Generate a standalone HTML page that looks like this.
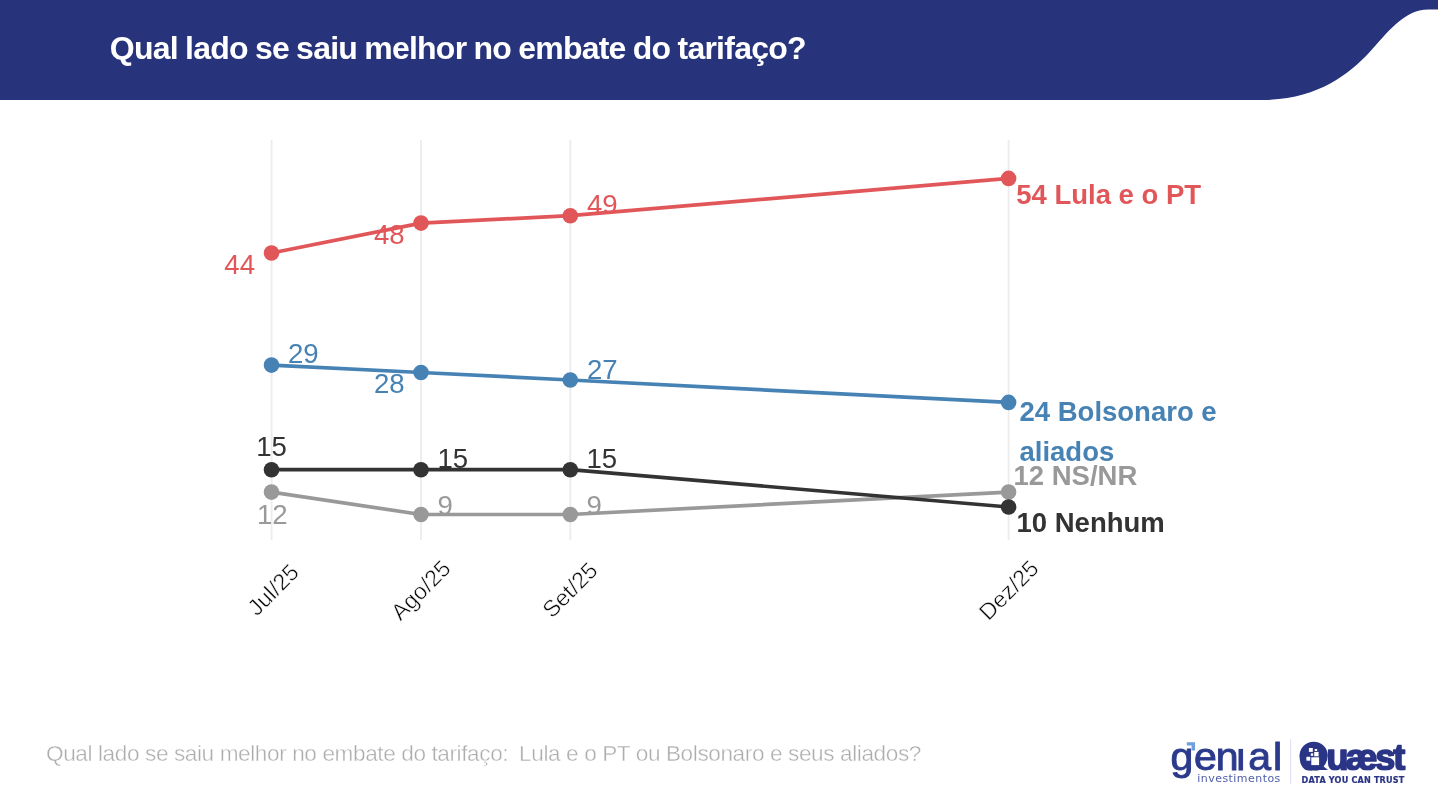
<!DOCTYPE html>
<html lang="pt-BR">
<head>
<meta charset="utf-8">
<title>Qual lado se saiu melhor no embate do tarifaço?</title>
<style>
  html, body { margin: 0; padding: 0; }
  body {
    width: 1438px; height: 800px; overflow: hidden; position: relative;
    background: #ffffff;
    font-family: "Liberation Sans", sans-serif;
  }
  #hdr { position: absolute; left: 0; top: 0; width: 1438px; height: 110px; display: block; }
  #title {
    position: absolute; left: 109.8px; top: 27.6px; margin: 0;
    font-family: "Liberation Sans", sans-serif; font-weight: bold;
    font-size: 32px; line-height: 40px; color: #ffffff; white-space: nowrap;
    letter-spacing: -0.76px; word-spacing: -1px;
  }
  #chart { position: absolute; left: 0; top: 0; width: 1438px; height: 800px; display: block; }
  #chart text { font-family: "Liberation Sans", sans-serif; }
  .dl { font-size: 27.6px; }
  .el { font-size: 27.5px; font-weight: bold; }
  .xl { font-size: 23px; fill: #0a0a0a; stroke: #ffffff; stroke-width: 0.45px; }
  #foot {
    position: absolute; left: 46px; top: 740.8px; margin: 0;
    font-family: "Liberation Sans", sans-serif; font-weight: normal;
    font-size: 22.6px; line-height: 26px; color: #adadad; white-space: nowrap;
    letter-spacing: -0.4px; -webkit-text-stroke: 0.4px #ffffff;
  }
  #logos { position: absolute; left: 1160px; top: 730px; width: 270px; height: 66px; display: block; }
</style>
</head>
<body>

<svg id="hdr" viewBox="0 0 1438 110">
  <path d="M0 0 H1438 V9.5 H1428.5 C1403.4 9.5 1386.7 33.7 1369.7 52.1 C1348.3 75.4 1315.3 100 1262.9 100 H0 Z" fill="#27347c"/>
</svg>
<h1 id="title">Qual lado se saiu melhor no embate do tarifaço?</h1>

<svg id="chart" viewBox="0 0 1438 800">
  <g transform="translate(0,0.5)">
  <!-- grid -->
  <g stroke="#ececec" stroke-width="1.8">
    <line x1="271.6" y1="139.4" x2="271.6" y2="539.5"/>
    <line x1="421" y1="139.4" x2="421" y2="539.5"/>
    <line x1="570.3" y1="139.4" x2="570.3" y2="539.5"/>
    <line x1="1008.6" y1="139.4" x2="1008.6" y2="539.5"/>
  </g>

  <!-- Lula e o PT -->
  <g fill="#e15759" stroke="none">
    <polyline points="271.5,252.5 421,222.6 570.3,215.2 1008.6,177.9" fill="none" stroke="#e15759" stroke-width="3.7" stroke-linejoin="round"/>
    <circle cx="271.5" cy="252.5" r="7.8"/><circle cx="421" cy="222.6" r="7.8"/><circle cx="570.3" cy="215.2" r="7.8"/><circle cx="1008.6" cy="177.9" r="7.8"/>
    <text class="dl" x="224.3" y="273.1">44</text>
    <text class="dl" x="374" y="243.5">48</text>
    <text class="dl" x="587" y="213">49</text>
    <text class="el" x="1016.2" y="203.1">54 Lula e o PT</text>
  </g>

  <!-- Bolsonaro e aliados -->
  <g fill="#4682b4" stroke="none">
    <polyline points="271.5,364.6 421,372 570.3,379.5 1008.6,401.9" fill="none" stroke="#4682b4" stroke-width="3.7" stroke-linejoin="round"/>
    <circle cx="271.5" cy="364.6" r="7.8"/><circle cx="421" cy="372" r="7.8"/><circle cx="570.3" cy="379.5" r="7.8"/><circle cx="1008.6" cy="401.9" r="7.8"/>
    <text class="dl" x="288" y="362">29</text>
    <text class="dl" x="374" y="392.5">28</text>
    <text class="dl" x="587" y="378">27</text>
    <text class="el" x="1019.5" y="420.5">24 Bolsonaro e</text>
    <text class="el" x="1019.5" y="460">aliados</text>
  </g>

  <!-- NS/NR -->
  <g fill="#999999" stroke="none">
    <text class="el" x="1013.5" y="484.3">12 NS/NR</text>
    <polyline points="271.5,491.6 421,514 570.3,514 1008.6,491.6" fill="none" stroke="#999999" stroke-width="3.7" stroke-linejoin="round"/>
    <circle cx="271.5" cy="491.6" r="7.8"/><circle cx="421" cy="514" r="7.8"/><circle cx="570.3" cy="514" r="7.8"/><circle cx="1008.6" cy="491.6" r="7.8"/>
    <text class="dl" x="257" y="523">12</text>
    <text class="dl" x="437.5" y="514.3">9</text>
    <text class="dl" x="586.5" y="514.3">9</text>
  </g>

  <!-- Nenhum -->
  <g fill="#333333" stroke="none">
    <polyline points="271.5,469.2 421,469.2 570.3,469.2 1008.6,506.5" fill="none" stroke="#333333" stroke-width="3.7" stroke-linejoin="round"/>
    <circle cx="271.5" cy="469.2" r="7.8"/><circle cx="421" cy="469.2" r="7.8"/><circle cx="570.3" cy="469.2" r="7.8"/><circle cx="1008.6" cy="506.5" r="7.8"/>
    <text class="dl" x="256.2" y="455.5">15</text>
    <text class="dl" x="437.5" y="467">15</text>
    <text class="dl" x="586.5" y="467">15</text>
    <text class="el" x="1016.5" y="531.2">10 Nenhum</text>
  </g>

  </g>
  <!-- x axis labels -->
  <g class="xl">
    <text class="xl" text-anchor="end" transform="translate(300.3,573.7) rotate(-45)">Jul/25</text>
    <text class="xl" text-anchor="end" transform="translate(452,570) rotate(-45)">Ago/25</text>
    <text class="xl" text-anchor="end" transform="translate(599,572) rotate(-45)">Set/25</text>
    <text class="xl" text-anchor="end" transform="translate(1040,570) rotate(-45)">Dez/25</text>
  </g>
</svg>

<p id="foot">Qual lado se saiu melhor no embate do tarifaço: <span style="margin-left:5px">Lula e o PT ou Bolsonaro e seus aliados?</span></p>

<svg id="logos" viewBox="1160 730 270 66">
  <defs>
    <clipPath id="qclip"><rect x="1290" y="730" width="140" height="40.4"/></clipPath>
  </defs>
  <!-- genial investimentos -->
  <g fill="#2b3a8c">
    <text transform="translate(1170.43,770) scale(1.08,1)" x="0 21.94 41.95 60.99 72.04 94.97" y="0" font-family="'Liberation Sans', sans-serif" font-size="38" stroke="#2b3a8c" stroke-width="0.9">genial</text>
    <rect x="1237" y="737" width="8" height="11.8" fill="#ffffff"/>
    <path d="M1186.8 742.2 H1195 V750.4 H1191.6 V745.6 H1186.8 Z" fill="#6f9fe0"/>
    <text x="1197.3" y="781.7" font-family="'DejaVu Sans', sans-serif" font-size="11" fill="#4f5da8" textLength="83" lengthAdjust="spacing">investimentos</text>
  </g>
  <!-- separator -->
  <line x1="1290.6" y1="739.3" x2="1290.6" y2="783.5" stroke="#dfe3f3" stroke-width="1.2"/>
  <!-- Quaest -->
  <g fill="#2a3586">
    <g clip-path="url(#qclip)">
      <text transform="translate(1298.9,769.6)" x="0 27.67 46.55 76.44 94.47" y="0" font-family="'Liberation Sans', sans-serif" font-weight="bold" font-size="36" stroke="#2a3586" stroke-width="1.6" stroke-linejoin="round">Quæst</text>
    </g>
    <ellipse cx="1313.7" cy="755.8" rx="14.1" ry="14.1"/>
    <path d="M1318 762 L1328 770.1 L1311 770.1 Z"/>
    <g fill="#ffffff">
      <rect x="1308.9" y="748" width="3.9" height="3.9"/>
      <rect x="1314.7" y="749" width="2.4" height="2"/>
      <rect x="1310.8" y="753.4" width="2.4" height="2.4"/>
      <rect x="1314.2" y="751.9" width="4.4" height="4.4"/>
      <rect x="1306.4" y="756.8" width="3.9" height="3.9"/>
      <rect x="1311.3" y="757.3" width="7.8" height="7.8"/>
    </g>
    <text x="1301.6" y="782.6" font-family="'DejaVu Sans', sans-serif" font-weight="bold" font-size="8.1" stroke="#2a3586" stroke-width="0.2" textLength="102.7" lengthAdjust="spacing">DATA YOU CAN TRUST</text>
  </g>
</svg>

</body>
</html>
